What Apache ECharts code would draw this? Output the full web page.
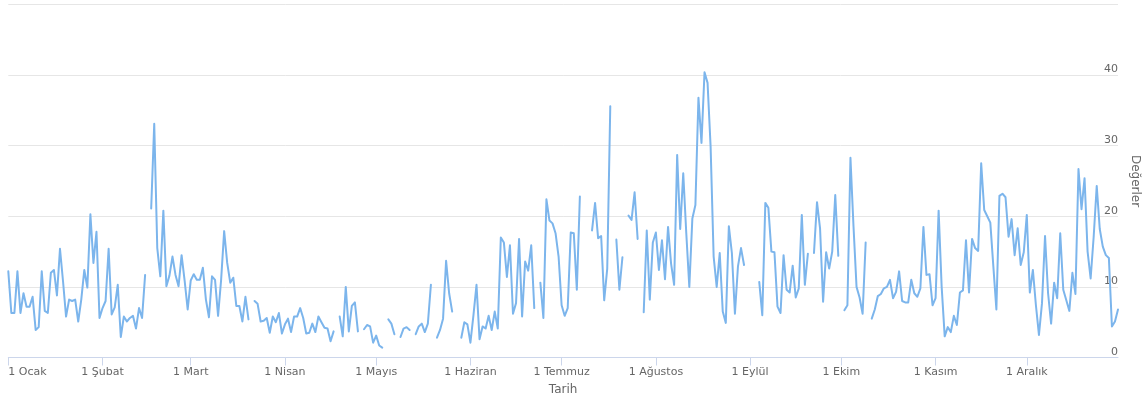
<!DOCTYPE html>
<html>
<head>
<meta charset="utf-8">
<script src="https://cdn.jsdelivr.net/npm/echarts@6/dist/echarts.min.js"></script>
<style>
html,body{margin:0;padding:0;background:#fff;overflow:hidden;}
#chart{width:1148px;height:401px;}
</style>
</head>
<body>
<div id="chart"></div>
<script>
var year = 2024;
var monthNames = ['Ocak','Şubat','Mart','Nisan','Mayıs','Haziran','Temmuz','Ağustos','Eylül','Ekim','Kasım','Aralık'];
var yTicks = [0, 10, 20, 30, 40, 50];
var xTitle = 'Tarih';
var yTitle = 'Değerler';

var jan = [12.2,6.3,6.3,12.2,6.3,9.1,7.2,7.2,8.6,3.9,4.3,12.2,6.6,6.3,12.0,12.4,8.8,15.4,10.8,5.8,8.2,8.0,8.2,5.1,8.2,12.4,9.9,20.3,13.4,17.8,5.6];
var feb = [7.0,8.0,15.4,6.1,7.1,10.3,2.9,5.8,5.1,5.6,5.9,4.1,7.0,5.6,11.7,null,21.1,33.1,15.5,11.5,20.8,10.1,11.6,14.3,11.7,10.1,14.5,10.9,6.8];
var mar = [10.9,11.8,11.0,11.0,12.7,8.2,5.7,11.5,11.0,5.9,11.0,17.9,13.4,10.6,11.3,7.3,7.3,5.1,8.6,5.4,null,8.0,7.6,5.1,5.2,5.6,3.5,5.8,5.0,6.3,3.4];
var apr = [4.7,5.5,3.6,5.8,5.8,7.0,5.6,3.4,3.5,4.8,3.6,5.8,5.0,4.2,4.1,2.3,3.7,null,5.8,3.0,10.0,3.7,7.3,7.8,3.7,null,4.0,4.6,4.4,2.1];
var may = [3.1,1.7,1.4,null,5.4,4.8,3.3,null,2.9,4.1,4.3,3.9,null,3.3,4.4,4.8,3.6,4.8,10.3,null,2.8,3.9,5.5,13.7,9.1,6.5,null,null,2.8,5.0,4.7];
var jun = [2.1,6.0,10.3,2.6,4.4,4.1,5.9,3.9,6.5,4.1,17.0,16.3,11.4,15.9,6.2,7.7,16.8,5.8,13.6,12.3,15.9,7.0,null,10.6,5.6,22.4,19.4,19.0,17.6,14.3];
var jul = [7.4,5.9,7.0,17.7,17.6,9.6,22.8,null,null,null,18.0,21.9,16.9,17.2,8.1,12.6,35.6,null,16.7,9.6,14.2,null,20.1,19.5,23.4,16.8,null,6.4,18.0,8.2,16.3];
var aug = [17.7,12.4,16.6,11.1,18.5,13.3,10.3,28.7,18.2,26.1,17.6,10.0,19.7,21.6,36.8,30.4,40.4,38.9,29.9,14.3,10.0,14.8,6.5,4.9,18.6,14.8,6.2,12.9,15.5,13.1,null];
var sep = [null,null,null,10.7,6.0,21.9,21.2,15.0,14.9,7.2,6.3,14.5,9.6,9.2,13.0,8.5,9.8,20.2,10.3,14.7,null,14.8,22.0,18.3,7.9,14.9,12.6,15.0,23.0,14.4];
var oct = [null,6.7,7.4,28.3,18.6,10.0,8.5,6.2,16.3,null,5.5,6.8,8.7,9.0,9.8,10.0,11.0,8.4,9.3,12.2,8.0,7.8,7.8,11.0,9.1,8.6,9.8,18.5,11.7,11.8,7.4];
var nov = [8.4,20.8,10.0,3.0,4.3,3.6,5.9,4.6,9.2,9.5,16.6,9.2,16.8,15.5,15.1,27.5,20.9,20.0,19.1,12.9,6.8,22.9,23.2,22.7,17.1,19.6,14.5,18.3,13.1,14.9];
var dec = [20.2,9.2,12.4,7.4,3.2,7.7,17.2,9.1,4.8,10.6,8.4,17.6,9.6,8.1,6.6,12.0,9.0,26.7,21.0,25.4,15.0,11.2,17.1,24.3,18.2,15.7,14.5,14.1,4.4,5.1,6.8];

var months = [jan,feb,mar,apr,may,jun,jul,aug,sep,oct,nov,dec];
var categories = [];
var values = [];
months.forEach(function(arr, m){
  arr.forEach(function(v, i){
    categories.push(m + '-' + (i + 1));
    values.push(v);
  });
});
function isFirst(index, value){ return /-1$/.test(value); }

var font = 'DejaVu Sans, Verdana, sans-serif';
var chart = echarts.init(document.getElementById('chart'), null, {renderer:'canvas'});
chart.setOption({
  animation: false,
  backgroundColor: '#ffffff',
  grid: {left: 8.3, right: 30, top: 4.5, bottom: 43.5, containLabel: false, outerBoundsMode: 'none'},
  xAxis: {
    type: 'category',
    data: categories,
    boundaryGap: false,
    name: xTitle,
    nameLocation: 'middle',
    nameGap: 26,
    nameTextStyle: {color: '#666666', fontSize: 12, fontFamily: font},
    axisLine: {lineStyle: {color: '#ccd6eb', width: 1}},
    axisTick: {show: true, interval: isFirst, length: 8, lineStyle: {color: '#ccd6eb'}},
    axisLabel: {
      interval: isFirst,
      color: '#666666', fontSize: 11, fontFamily: font, margin: 9,
      alignMinLabel: 'left',
      formatter: function(v){ var m = parseInt(v.split('-')[0], 10); return '1 ' + monthNames[m]; }
    },
    splitLine: {show: false}
  },
  yAxis: {
    type: 'value',
    position: 'right',
    min: yTicks[0], max: yTicks[yTicks.length - 1], interval: 10,
    name: yTitle,
    nameLocation: 'middle',
    nameRotate: -90,
    nameGap: 9,
    nameTextStyle: {color: '#666666', fontSize: 12, fontFamily: font},
    axisLine: {show: false},
    axisTick: {show: false},
    axisLabel: {
      inside: true, margin: 0, verticalAlign: 'bottom', showMaxLabel: false,
      color: '#666666', fontSize: 11, fontFamily: font
    },
    splitLine: {lineStyle: {color: '#e6e6e6', width: 1}}
  },
  series: [{
    type: 'line',
    data: values,
    showSymbol: false,
    connectNulls: false,
    lineStyle: {color: '#7cb5ec', width: 2, join: 'round', cap: 'round'},
    itemStyle: {color: '#7cb5ec'}
  }]
});
</script>
</body>
</html>
